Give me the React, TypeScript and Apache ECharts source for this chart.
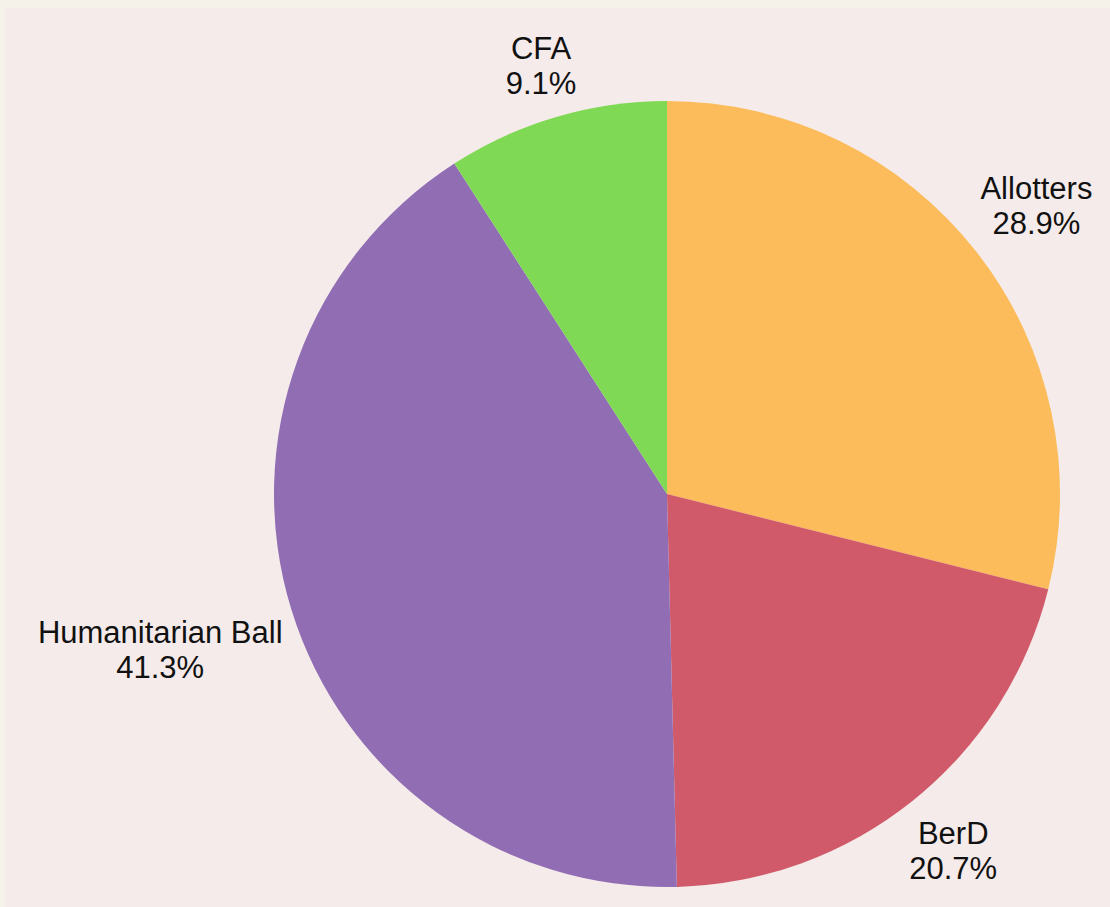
import React, { useEffect, useRef } from "react";
import * as echarts from "echarts";

const categories = ["Allotters", "BerD", "Humanitarian Ball", "CFA"];
const shares = [28.9, 20.7, 41.3, 9.1];
const colors = ["#fcbc5b", "#d05a69", "#916eb4", "#80d955"];

const CX = 667;
const CY = 494;
const R = 393;
const GAP = 10;

export default function App() {
  const ref = useRef<HTMLDivElement>(null);
  useEffect(() => {
    document.body.style.margin = "0";
    const chart = echarts.init(ref.current!, undefined, { renderer: "svg" });
    const total = shares.reduce((a, b) => a + b, 0);
    const mids: number[] = [];
    let acc = 0;
    for (const v of shares) {
      mids.push(((acc + v / 2) / total) * Math.PI * 2);
      acc += v;
    }
    chart.setOption({
      animation: false,
      backgroundColor: "#f4f2e9",
      graphic: [
        {
          type: "rect",
          z: -10,
          silent: true,
          shape: { x: 5, y: 8, width: 1105, height: 899 },
          style: { fill: "#f5ebea" },
        },
      ],
      series: [
        {
          type: "pie",
          center: [CX, CY],
          radius: [0, R],
          startAngle: 90,
          clockwise: true,
          avoidLabelOverlap: false,
          itemStyle: { borderWidth: 0 },
          label: {
            show: true,
            position: "outside",
            formatter: (p: any) => `${p.name}\n${p.value.toFixed(1)}%`,
            color: "#111111",
            fontFamily: "Liberation Sans, Arial, sans-serif",
            fontSize: 31,
            lineHeight: 35,
            align: "center",
          },
          labelLine: { show: false },
          labelLayout: (params: any) => {
            const a = mids[params.dataIndex];
            const s = Math.sin(a);
            const c = Math.cos(a);
            const w = params.labelRect.width / 2;
            const h = params.labelRect.height / 2;
            const d = R + GAP + w * Math.abs(s) + h * Math.abs(c);
            return {
              x: CX + d * s,
              y: CY - d * c,
              align: "center",
              verticalAlign: "middle",
            };
          },
          data: categories.map((name, i) => ({
            name,
            value: shares[i],
            itemStyle: { color: colors[i] },
          })),
        },
      ],
    });
    return () => chart.dispose();
  }, []);
  return <div ref={ref} style={{ width: 1110, height: 907 }} />;
}
